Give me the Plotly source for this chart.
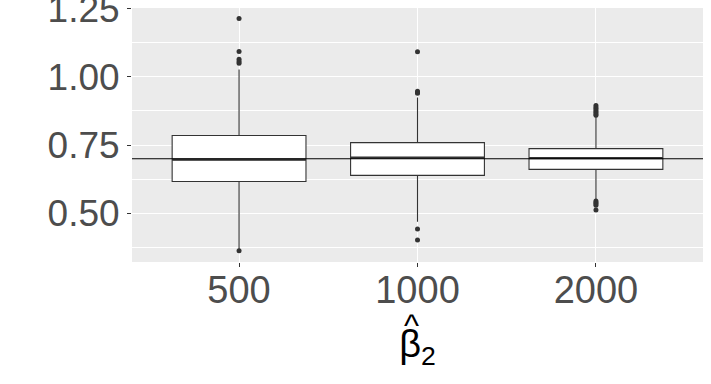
import plotly.graph_objects as go

# sample sizes and box statistics
sizes = ["500", "1000", "2000"]
q1 = [0.617, 0.639, 0.661]
median = [0.697, 0.704, 0.702]
q3 = [0.785, 0.759, 0.737]
lower_whisker = [0.370, 0.469, 0.553]
upper_whisker = [1.027, 0.924, 0.853]

outliers_500 = [1.214, 1.093, 1.064, 1.056, 1.050, 0.363]
outliers_1000 = [1.092, 0.947, 0.943, 0.940, 0.443, 0.403]
outliers_2000 = [0.895, 0.888, 0.882, 0.876, 0.870, 0.864, 0.859,
                 0.545, 0.540, 0.535, 0.530, 0.512]
outliers = [outliers_500, outliers_1000, outliers_2000]

true_value = 0.70
y_ticks = [0.50, 0.75, 1.00, 1.25]

pos = [1, 2, 3]
box_w = 0.75
dark = "#333333"

fig = go.Figure()

fig.add_trace(go.Box(
    x=pos, q1=q1, median=median, q3=q3,
    lowerfence=lower_whisker, upperfence=upper_whisker,
    width=box_w, fillcolor="white",
    line=dict(color=dark, width=1.1),
    boxpoints=False, whiskerwidth=0, showlegend=False,
))

# thicker median bars, ggplot style
for p, m in zip(pos, median):
    fig.add_trace(go.Scatter(
        x=[p - box_w / 2, p + box_w / 2], y=[m, m], mode="lines",
        line=dict(color=dark, width=2.3), showlegend=False, hoverinfo="skip",
    ))

for p, pts in zip(pos, outliers):
    fig.add_trace(go.Scatter(
        x=[p] * len(pts), y=pts, mode="markers",
        marker=dict(color=dark, size=5), showlegend=False,
    ))

fig.add_hline(y=true_value, line=dict(color="black", width=1.1))

fig.update_layout(
    width=711, height=384,
    margin=dict(l=132, r=8, t=8, b=122, autoexpand=False),
    plot_bgcolor="#EBEBEB", paper_bgcolor="white",
    font=dict(family="Liberation Sans, Arial", color="#4D4D4D"),
)

fig.update_xaxes(
    range=[0.4, 3.6], tickvals=pos, ticktext=sizes,
    tickfont=dict(size=38, color="#4D4D4D"), automargin=False,
    ticks="outside", ticklen=4, tickcolor=dark, tickwidth=1,
    ticklabelstandoff=-10,
    showgrid=True, gridcolor="white", gridwidth=1.1, zeroline=False,
    title=dict(text="β<sub>2</sub>", font=dict(size=38, color="black"), standoff=20),
)

# hat over the beta
fig.add_annotation(
    text="^", xref="paper", yref="paper", x=0.49, y=-0.325,
    showarrow=False, font=dict(size=32, color="black"),
)

fig.update_yaxes(
    range=[0.322, 1.252], tickvals=y_ticks,
    ticktext=[f"{v:.2f}" for v in y_ticks],
    tickfont=dict(size=37, color="#4D4D4D"), ticklabeloverflow="allow",
    automargin=False,
    ticks="outside", ticklen=4, tickcolor=dark, tickwidth=1,
    showgrid=True, gridcolor="white", gridwidth=1.1, zeroline=False,
    minor=dict(tickvals=[0.375, 0.625, 0.875, 1.125], showgrid=True,
               gridcolor="white", gridwidth=0.6, ticks=""),
)

fig.write_html("out.html", config={"displayModeBar": False},
               post_script="document.body.style.margin='0';")
